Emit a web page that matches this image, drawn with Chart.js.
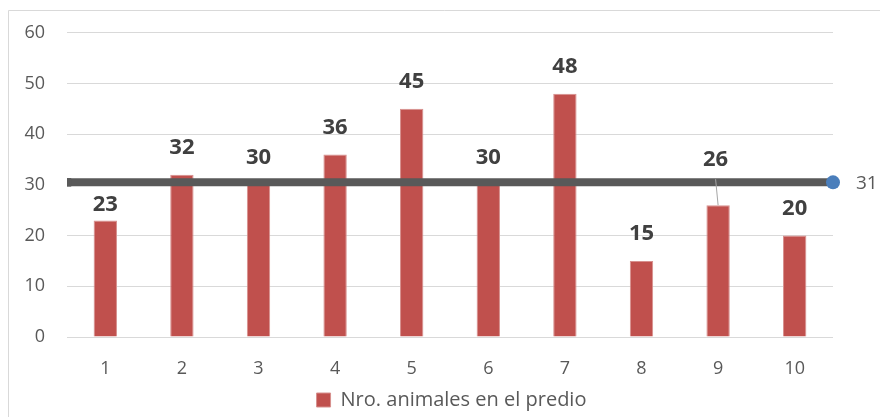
<!DOCTYPE html>
<html>
<head>
<meta charset="utf-8">
<script src="https://cdn.jsdelivr.net/npm/chart.js@4.4.1/dist/chart.umd.min.js"></script>
<style>
  html, body { margin: 0; padding: 0; background: #ffffff; }
  #wrap { width: 880px; height: 417px; position: relative; }
</style>
</head>
<body>
<div id="wrap"><canvas id="chart" width="880" height="417"></canvas></div>
<script>
// Animales por predio y línea de promedio
const categories = ['1', '2', '3', '4', '5', '6', '7', '8', '9', '10'];
const animalCounts = [23, 32, 30, 36, 45, 30, 48, 15, 26, 20];
const averageLine = [30.5, 30.5];
const yTicks = [0, 10, 20, 30, 40, 50, 60];
const seriesName = 'Nro. animales en el predio';

const FONT = '"Open Sans", Lato, sans-serif';
const TEXT_GREY = '#595959';
const LABEL_DARK = '#404040';
const GRID = '#D9D9D9';

// label lift above the bar top (px); a couple are moved to stay clear of the average line
const labelLift = { 0: 16, 8: 45 };
const defaultLift = 27;
// the legend sits centred under the whole frame rather than the plot
const legendShiftX = 35;
const legendShiftY = 3;

const framePlugin = {
  id: 'frame',
  afterLayout(chart) {
    const lg = chart.legend;
    if (lg) {
      lg.left += legendShiftX; lg.right += legendShiftX;
      lg.top += legendShiftY; lg.bottom += legendShiftY;
    }
  },
  beforeDraw(chart) {
    const ctx = chart.ctx;
    ctx.save();
    ctx.fillStyle = '#ffffff';
    ctx.fillRect(0, 0, chart.width, chart.height);
    ctx.strokeStyle = GRID;
    ctx.lineWidth = 1;
    ctx.beginPath();
    ctx.moveTo(8.5, chart.height);
    ctx.lineTo(8.5, 10.5);
    ctx.lineTo(chart.width, 10.5);
    ctx.stroke();
    ctx.restore();
  }
};

const labelPlugin = {
  id: 'barLabels',
  afterDatasetsDraw(chart) {
    const ctx = chart.ctx;
    const meta = chart.getDatasetMeta(0);
    ctx.save();
    ctx.font = 'bold 22px ' + FONT;
    ctx.fillStyle = LABEL_DARK;
    ctx.textAlign = 'center';
    ctx.textBaseline = 'middle';
    meta.data.forEach((bar, i) => {
      const lift = labelLift[i] !== undefined ? labelLift[i] : defaultLift;
      let lx = bar.x;
      const ly = bar.y - lift;
      if (i === 8) {
        lx = bar.x - 2.5;
        ctx.strokeStyle = '#A6A6A6';
        ctx.lineWidth = 1;
        ctx.beginPath();
        ctx.moveTo(lx, ly + 19);
        ctx.lineTo(bar.x, bar.y);
        ctx.stroke();
      }
      ctx.fillText(String(animalCounts[i]), lx, ly);
    });
    // value of the average line, at its right end
    const lineMeta = chart.getDatasetMeta(1);
    const last = lineMeta.data[lineMeta.data.length - 1];
    ctx.font = '19px ' + FONT;
    ctx.fillStyle = TEXT_GREY;
    ctx.textAlign = 'left';
    ctx.fillText(String(Math.round(averageLine[1])), last.x + 23, last.y + 1);
    ctx.restore();
  }
};

new Chart(document.getElementById('chart'), {
  type: 'bar',
  data: {
    labels: categories,
    datasets: [
      {
        type: 'bar',
        label: seriesName,
        data: animalCounts,
        backgroundColor: '#C0504D',
        borderColor: '#D7908E',
        borderWidth: 1,
        grouped: false,
        categoryPercentage: 1,
        barPercentage: 0.305,
        order: 2
      },
      {
        type: 'line',
        label: 'Promedio',
        xAxisID: 'x2',
        data: averageLine.map((v, i) => ({ x: i * 10, y: v })),
        borderColor: '#595959',
        borderWidth: 8,
        pointStyle: ['rect', 'circle'],
        pointRadius: [6, 7],
        pointBackgroundColor: ['#595959', '#4A7EBB'],
        pointBorderColor: ['#595959', '#4A7EBB'],
        pointBorderWidth: 0,
        clip: { left: 0, top: false, right: false, bottom: false },
        order: 1
      }
    ]
  },
  options: {
    responsive: false,
    animation: false,
    layout: { padding: { top: 31, right: 47, left: 0, bottom: 0 } },
    scales: {
      x: {
        type: 'category',
        offset: true,
        grid: { display: false },
        border: { display: false },
        ticks: { color: TEXT_GREY, font: { family: FONT, size: 18 }, padding: 13 },
        afterFit(scale) { scale.height = 43; }
      },
      x2: {
        type: 'linear',
        min: 0,
        max: 10,
        offset: false,
        display: false
      },
      y: {
        min: 0,
        max: 60,
        afterBuildTicks(scale) { scale.ticks = yTicks.map(v => ({ value: v })); },
        grid: { color: GRID, lineWidth: 1, drawTicks: false },
        border: { display: false },
        ticks: { color: TEXT_GREY, font: { family: FONT, size: 18 }, padding: 22 },
        afterFit(scale) { scale.width = 67; }
      }
    },
    plugins: {
      legend: {
        position: 'bottom',
        labels: {
          filter: item => item.datasetIndex === 0,
          color: TEXT_GREY,
          font: { family: FONT, size: 20 },
          boxWidth: 14,
          boxHeight: 14,
          padding: 7
        }
      },
      tooltip: { enabled: false }
    }
  },
  plugins: [framePlugin, labelPlugin]
});
</script>
</body>
</html>
